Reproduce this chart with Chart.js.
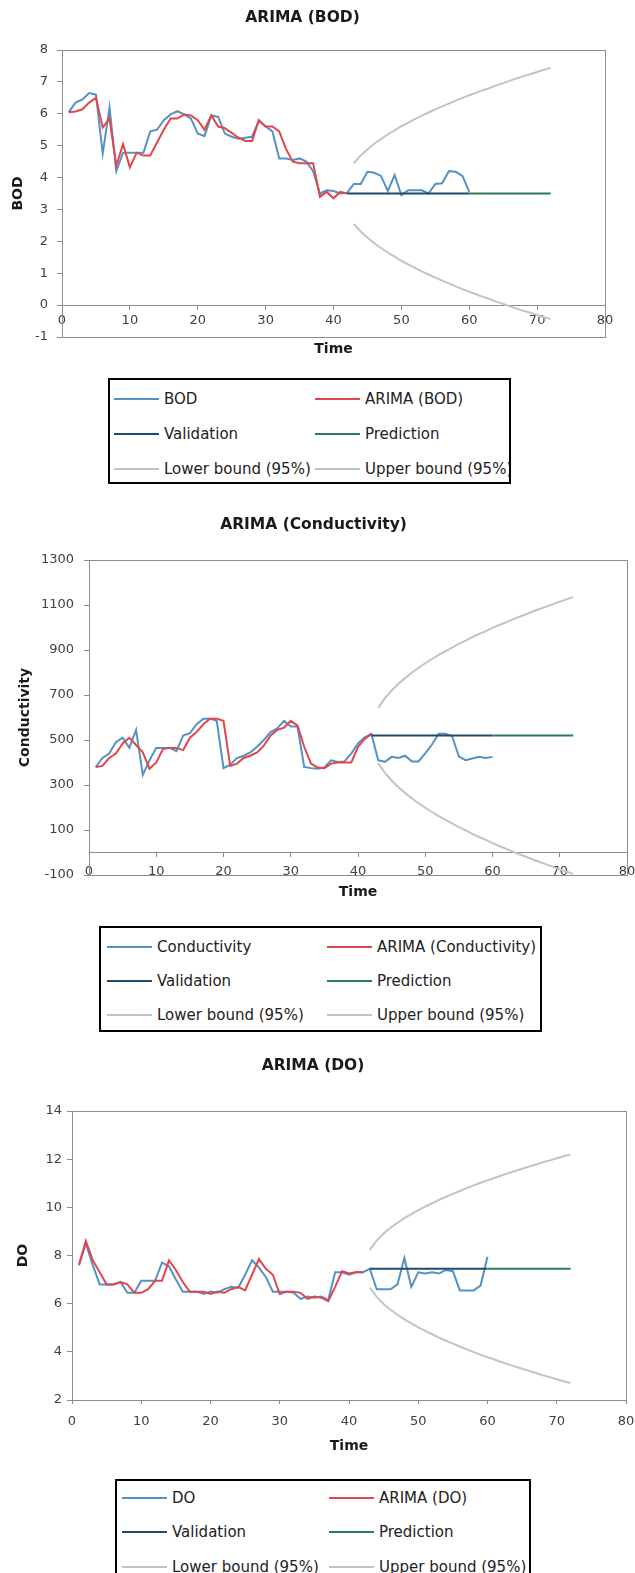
<!DOCTYPE html>
<html>
<head>
<meta charset="utf-8">
<script src="https://cdn.jsdelivr.net/npm/chart.js@4.4.1/dist/chart.umd.min.js"></script>
<style>
html,body{margin:0;padding:0;background:#fff;width:635px;height:1573px;overflow:hidden;}
canvas{position:absolute;left:0;}
.legend{position:absolute;border:2px solid #000;box-sizing:border-box;overflow:hidden;background:#fff;
  font-family:"DejaVu Sans",sans-serif;font-size:15px;color:#222;}
.item{position:absolute;white-space:nowrap;height:18px;line-height:18px;}
.item .sw{position:absolute;left:0;top:8px;width:45px;height:2px;}
.item .tx{position:absolute;left:50px;top:0;}
</style>
</head>
<body>
<canvas id="c1" width="635" height="370" style="top:0px"></canvas>
<div class="legend" id="lg1" style="left:108px;top:378px;width:403px;height:106px"></div>
<canvas id="c2" width="635" height="405" style="top:500px"></canvas>
<div class="legend" id="lg2" style="left:99px;top:926px;width:443px;height:106px"></div>
<canvas id="c3" width="635" height="415" style="top:1050px"></canvas>
<div class="legend" id="lg3" style="left:115px;top:1479px;width:416px;height:110px"></div>
<script>
// ---------------- DATA ----------------
// BOD
const bodActualStart = 1;
const bodActual = [6.05, 6.35, 6.45, 6.65, 6.6, 4.75, 6.2, 4.2, 4.78, 4.78,
  4.78, 4.78, 5.45, 5.5, 5.8, 5.98, 6.08, 5.98, 5.85, 5.38,
  5.3, 5.95, 5.9, 5.38, 5.28, 5.22, 5.25, 5.28, 5.78, 5.6,
  5.45, 4.6, 4.6, 4.55, 4.6, 4.5, 4.2, 3.5, 3.6, 3.58,
  3.5, 3.52, 3.8, 3.8, 4.18, 4.15, 4.05, 3.58, 4.08, 3.45,
  3.6, 3.6, 3.6, 3.5, 3.8, 3.82, 4.2, 4.18, 4.05, 3.55];
const bodArimaStart = 1;
const bodArima = [6.05, 6.07, 6.14, 6.35, 6.5, 5.57, 5.85, 4.38, 5.05, 4.32,
  4.78, 4.69, 4.69, 5.1, 5.5, 5.85, 5.85, 5.98, 5.95, 5.8,
  5.5, 5.95, 5.6, 5.55, 5.4, 5.25, 5.15, 5.15, 5.8, 5.6,
  5.6, 5.45, 4.9, 4.5, 4.45, 4.45, 4.45, 3.4, 3.55, 3.35,
  3.55, 3.5];
const bodValidationStart = 42;
const bodValidation = [3.5, 3.5, 3.5, 3.5, 3.5, 3.5, 3.5, 3.5, 3.5, 3.5,
  3.5, 3.5, 3.5, 3.5, 3.5, 3.5, 3.5, 3.5, 3.5];
const bodPredictionStart = 60;
const bodPrediction = [3.5, 3.5, 3.5, 3.5, 3.5, 3.5, 3.5, 3.5, 3.5, 3.5, 3.5, 3.5, 3.5];
const bodBoundStart = 43;
const bodLower = [2.55, 2.31, 2.12, 1.94, 1.79, 1.65, 1.52, 1.39, 1.28, 1.17,
  1.06, 0.96, 0.86, 0.77, 0.68, 0.59, 0.50, 0.42, 0.34, 0.26,
  0.19, 0.11, 0.04, -0.04, -0.11, -0.18, -0.24, -0.31, -0.38, -0.44];
const bodUpper = [4.45, 4.69, 4.88, 5.06, 5.21, 5.35, 5.48, 5.61, 5.72, 5.83,
  5.94, 6.04, 6.14, 6.23, 6.32, 6.41, 6.50, 6.58, 6.66, 6.74,
  6.81, 6.89, 6.96, 7.04, 7.11, 7.18, 7.24, 7.31, 7.38, 7.44];

// Conductivity
const condActualStart = 1;
const condActual = [380, 420, 440, 490, 510, 465, 545, 345, 410, 465,
  465, 465, 450, 520, 530, 570, 595, 595, 585, 375,
  390, 420, 430, 445, 470, 500, 535, 552, 585, 560,
  560, 380, 375, 372, 378, 410, 402, 405, 440, 485,
  512, 527, 410, 403, 425, 420, 430, 405, 405, 441,
  480, 528, 528, 517, 426, 410, 418, 425, 420, 425];
const condArimaStart = 1;
const condArima = [380, 385, 420, 440, 485, 510, 478, 445, 372, 400,
  460, 465, 465, 455, 510, 535, 570, 595, 595, 585,
  385, 395, 420, 430, 445, 475, 520, 545, 555, 585,
  565, 470, 395, 378, 375, 395, 400, 400, 400, 470,
  505, 527];
const condValidationStart = 42;
const condValidation = [520, 520, 520, 520, 520, 520, 520, 520, 520, 520,
  520, 520, 520, 520, 520, 520, 520, 520, 520];
const condPredictionStart = 60;
const condPrediction = [520, 520, 520, 520, 520, 520, 520, 520, 520, 520, 520, 520, 520];
const condBoundStart = 43;
const condLower = [397, 354, 320, 290, 265, 241, 219, 199, 180, 162,
  145, 129, 113, 98, 83, 69, 56, 42, 29, 17,
  4, -8, -19, -31, -42, -53, -64, -75, -85, -95];
const condUpper = [643, 686, 720, 750, 775, 799, 821, 841, 860, 878,
  895, 911, 927, 942, 957, 971, 984, 998, 1011, 1023,
  1036, 1048, 1059, 1071, 1082, 1093, 1104, 1115, 1125, 1135];

// DO
const doActualStart = 1;
const doActual = [7.6, 8.5, 7.6, 6.8, 6.8, 6.8, 6.9, 6.45, 6.45, 6.95,
  6.95, 6.95, 7.7, 7.55, 7.0, 6.5, 6.5, 6.5, 6.4, 6.5,
  6.45, 6.6, 6.7, 6.65, 7.2, 7.8, 7.5, 7.1, 6.5, 6.5,
  6.5, 6.45, 6.2, 6.3, 6.25, 6.3, 6.15, 7.3, 7.3, 7.2,
  7.3, 7.3, 7.45, 6.6, 6.6, 6.6, 6.8, 7.9, 6.7, 7.3,
  7.25, 7.3, 7.25, 7.4, 7.35, 6.55, 6.55, 6.55, 6.75, 7.95];
const doArimaStart = 1;
const doArima = [7.6, 8.6, 7.8, 7.3, 6.8, 6.8, 6.9, 6.8, 6.45, 6.45,
  6.6, 6.95, 6.95, 7.8, 7.4, 6.9, 6.5, 6.5, 6.5, 6.4,
  6.5, 6.45, 6.6, 6.7, 6.55, 7.2, 7.85, 7.45, 7.2, 6.4,
  6.5, 6.5, 6.45, 6.2, 6.3, 6.25, 6.1, 6.7, 7.35, 7.25,
  7.3, 7.3];
const doValidationStart = 43;
const doValidation = [7.45, 7.45, 7.45, 7.45, 7.45, 7.45, 7.45, 7.45, 7.45, 7.45,
  7.45, 7.45, 7.45, 7.45, 7.45, 7.45, 7.45, 7.45];
const doPredictionStart = 60;
const doPrediction = [7.45, 7.45, 7.45, 7.45, 7.45, 7.45, 7.45, 7.45, 7.45, 7.45, 7.45, 7.45, 7.45];
const doBoundStart = 43;
const doLower = [6.67, 6.28, 5.99, 5.75, 5.54, 5.35, 5.18, 5.02, 4.87, 4.73,
  4.59, 4.46, 4.34, 4.22, 4.10, 3.99, 3.88, 3.78, 3.68, 3.58,
  3.48, 3.39, 3.30, 3.21, 3.12, 3.03, 2.95, 2.86, 2.78, 2.70];
const doUpper = [8.23, 8.62, 8.91, 9.15, 9.36, 9.55, 9.72, 9.88, 10.03, 10.17,
  10.31, 10.44, 10.56, 10.68, 10.80, 10.91, 11.02, 11.12, 11.22, 11.32,
  11.42, 11.51, 11.60, 11.69, 11.78, 11.87, 11.95, 12.04, 12.12, 12.20];

// Axis ranges / tick steps
const timeMin = 0, timeMax = 80, timeStep = 10;
const bodRange = [-1, 8, 1];
const condRange = [-100, 1300, 200];
const doRange = [2, 14, 2];

// ---------------- STYLE ----------------
const FONT = 'DejaVu Sans';
const COLORS = {
  actual: '#5592c4', arima: '#e0464c', validation: '#1c4b73',
  prediction: '#2b7a5b', lower: '#c3c3c3', upper: '#c3c3c3'
};
const AXIS = '#8c8c8c';
Chart.defaults.font.family = FONT;
Chart.defaults.animation = false;

const framePlugin = {
  id: 'frame',
  beforeDatasetsDraw(chart) {
    const {ctx, chartArea: a} = chart;
    ctx.save();
    ctx.strokeStyle = AXIS;
    ctx.lineWidth = 1;
    ctx.strokeRect(Math.round(a.left) + 0.5, Math.round(a.top) + 0.5,
      Math.round(a.right - a.left), Math.round(a.bottom - a.top));
    ctx.restore();
  }
};

function pts(values, start) {
  return values.map((v, i) => ({x: start + i, y: v}));
}

function ds(label, values, start, color, order) {
  return {label, data: pts(values, start), borderColor: color, backgroundColor: color,
    borderWidth: 2, pointRadius: 0, tension: 0, fill: false, order};
}

function makeChart(id, s) {
  const scales = {
    x: {
      type: 'linear', min: timeMin, max: timeMax,
      position: s.xCross === null ? 'bottom' : {y: s.xCross},
      afterFit: sc => { sc.height = s.xHeight; sc.paddingLeft = 0; sc.paddingRight = 0; },
      ticks: {stepSize: timeStep, padding: s.xTickPad, color: '#404040', font: {size: 13},
        maxRotation: 0, autoSkip: false},
      grid: {drawOnChartArea: false, drawTicks: true, tickLength: 4, tickColor: AXIS, color: AXIS},
      border: {display: true, color: AXIS},
      title: s.xCross === null ? {display: true, text: 'Time', color: '#1a1a1a',
        font: {size: 14, weight: 'bold'}, padding: {top: 0, bottom: s.timePad}} : {display: false}
    },
    y: {
      type: 'linear', position: 'left', min: s.yRange[0], max: s.yRange[1],
      afterFit: sc => { sc.width = s.yWidth; },
      ticks: {stepSize: s.yRange[2], padding: s.yTickPad, color: '#404040', font: {size: 13},
        format: {useGrouping: false}},
      grid: {drawOnChartArea: false, drawTicks: true, tickLength: 5, tickColor: AXIS, color: AXIS},
      border: {display: true, color: AXIS},
      title: {display: true, text: s.yTitle, color: '#1a1a1a', font: {size: 14, weight: 'bold'},
        padding: {top: s.yTitlePad, bottom: 0}}
    }
  };
  if (s.xCross !== null) {
    scales.xt = {
      type: 'linear', min: timeMin, max: timeMax, position: 'bottom',
      afterFit: sc => { sc.height = s.xtHeight; sc.paddingLeft = 0; sc.paddingRight = 0; },
      ticks: {display: false},
      grid: {display: false, drawTicks: false},
      border: {display: false},
      title: {display: true, text: 'Time', color: '#1a1a1a', font: {size: 14, weight: 'bold'},
        padding: {top: 0, bottom: s.timePad}}
    };
  }
  return new Chart(document.getElementById(id), {
    type: 'line',
    data: {datasets: [
      ds(s.labels[0], s.actual, s.actualStart, COLORS.actual, 6),
      ds(s.labels[1], s.arima, s.arimaStart, COLORS.arima, 5),
      ds('Validation', s.validation, s.validationStart, COLORS.validation, 4),
      ds('Prediction', s.prediction, s.predictionStart, COLORS.prediction, 3),
      ds('Lower bound (95%)', s.lower, s.boundStart, COLORS.lower, 2),
      ds('Upper bound (95%)', s.upper, s.boundStart, COLORS.upper, 1)
    ]},
    options: {
      responsive: false, animation: false, parsing: true,
      layout: {padding: {left: 0, right: s.padRight, top: 0, bottom: 0}},
      plugins: {
        legend: {display: false}, tooltip: {enabled: false},
        title: {display: true, text: s.title, color: '#1a1a1a',
          font: {size: 15.5, weight: 'bold'}, padding: {top: s.titlePadTop, bottom: s.titlePadBottom}}
      },
      scales
    },
    plugins: [framePlugin]
  });
}

function makeLegend(id, labels, cols, rows) {
  const el = document.getElementById(id);
  const keys = ['actual', 'arima', 'validation', 'prediction', 'lower', 'upper'];
  labels.forEach((lab, i) => {
    const it = document.createElement('div');
    it.className = 'item';
    it.style.left = cols[i % 2] + 'px';
    it.style.top = (rows[Math.floor(i / 2)] - 9) + 'px';
    const sw = document.createElement('div');
    sw.className = 'sw';
    sw.style.background = COLORS[keys[i]];
    const tx = document.createElement('span');
    tx.className = 'tx';
    tx.textContent = lab;
    it.appendChild(sw); it.appendChild(tx);
    el.appendChild(it);
  });
}

const common = ['Validation', 'Prediction', 'Lower bound (95%)', 'Upper bound (95%)'];

makeChart('c1', {
  title: 'ARIMA (BOD)', titlePadTop: 8.7, titlePadBottom: 22.7,
  labels: ['BOD', 'ARIMA (BOD)'],
  actual: bodActual, actualStart: bodActualStart, arima: bodArima, arimaStart: bodArimaStart,
  validation: bodValidation, validationStart: bodValidationStart,
  prediction: bodPrediction, predictionStart: bodPredictionStart,
  lower: bodLower, upper: bodUpper, boundStart: bodBoundStart,
  yRange: bodRange, yTitle: 'BOD', yWidth: 62, yTickPad: 9, yTitlePad: 10,
  xCross: 0, xHeight: 0, xTickPad: 4, xtHeight: 33, timePad: 12.6, padRight: 30
});
makeChart('c2', {
  title: 'ARIMA (Conductivity)', titlePadTop: 15.7, titlePadBottom: 25.7,
  labels: ['Conductivity', 'ARIMA (Conductivity)'],
  actual: condActual, actualStart: condActualStart, arima: condArima, arimaStart: condArimaStart,
  validation: condValidation, validationStart: condValidationStart,
  prediction: condPrediction, predictionStart: condPredictionStart,
  lower: condLower, upper: condUpper, boundStart: condBoundStart,
  yRange: condRange, yTitle: 'Conductivity', yWidth: 89, yTickPad: 10, yTitlePad: 16.6,
  xCross: 0, xHeight: 0, xTickPad: 7, xtHeight: 30, timePad: 4.6, padRight: 8
});
makeChart('c3', {
  title: 'ARIMA (DO)', titlePadTop: 6.7, titlePadBottom: 35.7,
  labels: ['DO', 'ARIMA (DO)'],
  actual: doActual, actualStart: doActualStart, arima: doArima, arimaStart: doArimaStart,
  validation: doValidation, validationStart: doValidationStart,
  prediction: doPrediction, predictionStart: doPredictionStart,
  lower: doLower, upper: doUpper, boundStart: doBoundStart,
  yRange: doRange, yTitle: 'DO', yWidth: 72, yTickPad: 5, yTitlePad: 15.1,
  xCross: null, xHeight: 65, xTickPad: 10, timePad: 10.6, padRight: 9
});

makeLegend('lg1', ['BOD', 'ARIMA (BOD)'].concat(common), [4, 205], [19, 54, 89]);
makeLegend('lg2', ['Conductivity', 'ARIMA (Conductivity)'].concat(common), [6, 226], [19, 53, 87]);
makeLegend('lg3', ['DO', 'ARIMA (DO)'].concat(common), [5, 212], [17, 51, 86]);
</script>
</body>
</html>
